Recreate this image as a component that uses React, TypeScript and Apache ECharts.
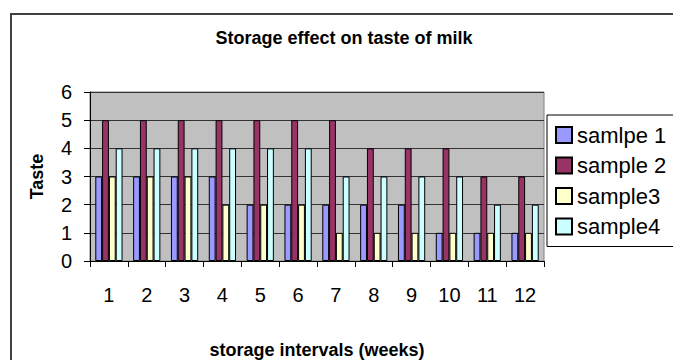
import React, { useEffect, useRef } from "react";
import * as echarts from "echarts";

const categories = ["1", "2", "3", "4", "5", "6", "7", "8", "9", "10", "11", "12"];
const seriesNames = ["samlpe 1", "sample 2", "sample3", "sample4"];
const sample1 = [3, 3, 3, 3, 2, 2, 2, 2, 2, 1, 1, 1];
const sample2 = [5, 5, 5, 5, 5, 5, 5, 4, 4, 4, 3, 3];
const sample3 = [3, 3, 3, 2, 2, 2, 1, 1, 1, 1, 1, 1];
const sample4 = [4, 4, 4, 4, 4, 4, 3, 3, 3, 3, 2, 2];
const colors = ["#9999FF", "#993366", "#FFFFCC", "#CCFFFF"];

const FONT = "'Liberation Sans', Arial, sans-serif";

export default function App() {
  const ref = useRef<HTMLDivElement>(null);
  useEffect(() => {
    if (!ref.current) return;
    const chart = echarts.init(ref.current, undefined, { renderer: "svg" });
    const data = [sample1, sample2, sample3, sample4];
    chart.setOption({
      animation: false,
      backgroundColor: "#ffffff",
      textStyle: { fontFamily: FONT },
      graphic: [
        {
          type: "rect",
          shape: { x: 11, y: 14, width: 700, height: 400 },
          style: { fill: "none", stroke: "#404040", lineWidth: 2 },
          silent: true,
        },
        {
          type: "text",
          x: 344,
          y: 38,
          style: {
            text: "Storage effect on taste of milk",
            fontFamily: FONT,
            fontWeight: "bold",
            fontSize: 18,
            fill: "#000",
            textAlign: "center",
            textVerticalAlign: "middle",
          },
        },
      ],
      legend: {
        orient: "vertical",
        left: 547,
        top: 115,
        padding: [9, 40, 9, 8],
        itemWidth: 16,
        itemHeight: 16,
        itemGap: 8.5,
        borderColor: "#000",
        borderWidth: 1,
        icon: "rect",
        textStyle: { fontFamily: FONT, fontSize: 22, color: "#000", lineHeight: 22 },
        data: seriesNames,
      },
      grid: {
        left: 90,
        top: 92,
        right: 129,
        bottom: 91,
        show: true,
        backgroundColor: "#C0C0C0",
        borderColor: "#808080",
        borderWidth: 1,
      },
      xAxis: {
        type: "category",
        data: categories,
        name: "storage intervals (weeks)",
        nameLocation: "middle",
        nameGap: 80,
        nameTextStyle: { fontFamily: FONT, fontWeight: "bold", fontSize: 18, color: "#000" },
        axisLine: { lineStyle: { color: "#000", width: 1 } },
        axisTick: { show: true, length: 6, lineStyle: { color: "#000" } },
        axisLabel: { fontFamily: FONT, fontSize: 20, color: "#000", margin: 24 },
      },
      yAxis: {
        type: "value",
        min: 0,
        max: 6,
        interval: 1,
        name: "Taste",
        nameLocation: "middle",
        nameRotate: 90,
        nameGap: 44,
        nameTextStyle: { fontFamily: FONT, fontWeight: "bold", fontSize: 18, color: "#000" },
        axisLine: { show: true, lineStyle: { color: "#000", width: 1 } },
        axisTick: { show: true, length: 6, lineStyle: { color: "#000" } },
        axisLabel: { fontFamily: FONT, fontSize: 20, color: "#000", margin: 18 },
        splitLine: { show: true, lineStyle: { color: "#333", width: 1 } },
      },
      series: seriesNames.map((name, i) => ({
        name,
        type: "bar",
        data: data[i],
        barGap: "0%",
        barCategoryGap: "28%",
        itemStyle: { color: colors[i], borderColor: "#000", borderWidth: 1 },
      })),
    });
    return () => chart.dispose();
  }, []);
  return (
    <div
      ref={ref}
      style={{ position: "fixed", left: 0, top: 0, width: 673, height: 360 }}
    />
  );
}
